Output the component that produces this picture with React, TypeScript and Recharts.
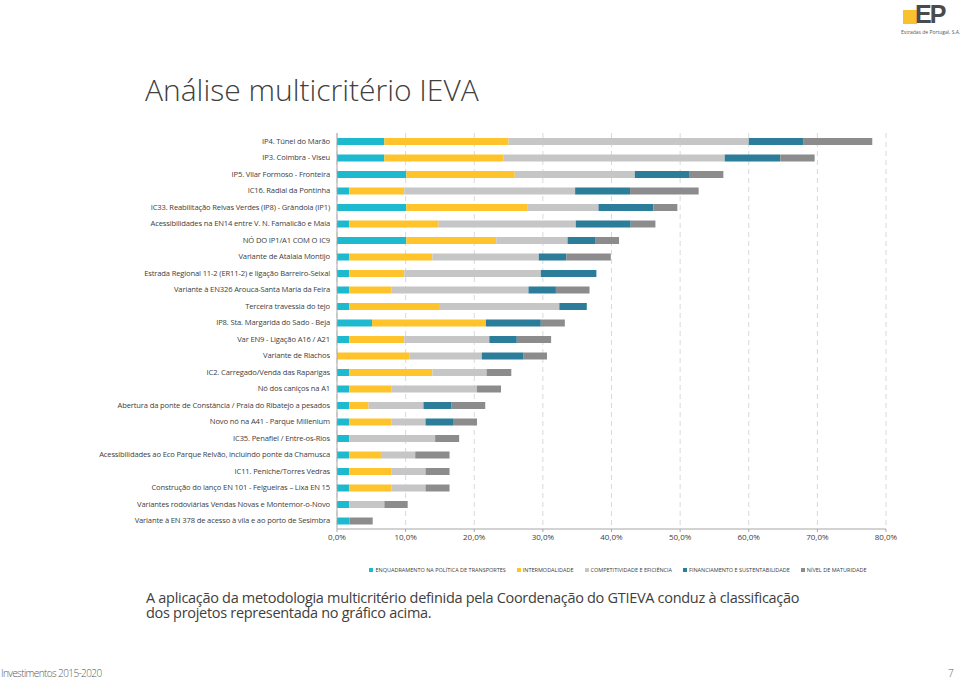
import React from "react";
import {
  BarChart,
  Bar,
  XAxis,
  YAxis,
  CartesianGrid,
  Legend,
} from "recharts";

const projects = [
  "IP4. Túnel do Marão",
  "IP3. Coimbra - Viseu",
  "IP5. Vilar Formoso - Fronteira",
  "IC16. Radial da Pontinha",
  "IC33. Reabilitação Relvas Verdes (IP8) - Grândola (IP1)",
  "Acessibilidades na EN14 entre V. N. Famalicão e Maia",
  "NÓ DO IP1/A1 COM O IC9",
  "Variante de Atalaia Montijo",
  "Estrada Regional 11-2 (ER11-2) e ligação Barreiro-Seixal",
  "Variante à EN326 Arouca-Santa Maria da Feira",
  "Terceira travessia do tejo",
  "IP8. Sta. Margarida do Sado - Beja",
  "Var EN9 - Ligação A16 / A21",
  "Variante de Riachos",
  "IC2. Carregado/Venda das Raparigas",
  "Nó  dos caniços na A1",
  "Abertura da ponte de Constância / Praia do Ribatejo a pesados",
  "Novo nó na A41 - Parque Millenium",
  "IC35. Penafiel / Entre-os-Rios",
  "Acessibilidades ao Eco Parque Relvão, incluindo ponte da Chamusca",
  "IC11. Peniche/Torres Vedras",
  "Construção do lanço EN 101 - Felgueiras – Lixa EN 15",
  "Variantes rodoviárias Vendas Novas e Montemor-o-Novo",
  "Variante à EN 378 de acesso à vila e ao porto de Sesimbra",
];

// percentages per criterion
const enquadramento = [6.9, 6.9, 10.1, 1.8, 10.1, 1.8, 10.1, 1.8, 1.8, 1.8, 1.8, 5.1, 1.8, 0, 1.8, 1.8, 1.8, 1.8, 1.8, 1.8, 1.8, 1.8, 1.8, 1.8];
const intermodalidade = [18.1, 17.4, 15.8, 8.0, 17.7, 13.0, 13.1, 12.1, 8.0, 6.1, 13.2, 16.6, 8.0, 10.6, 12.1, 6.1, 2.8, 6.1, 0, 4.6, 6.1, 6.1, 0, 0];
const competitividade = [35.0, 32.2, 17.5, 24.9, 10.3, 20.0, 10.4, 15.5, 19.9, 20.0, 17.4, 0, 12.4, 10.5, 7.9, 12.5, 8.0, 5.0, 12.5, 5.0, 5.0, 5.0, 5.1, 0];
const financiamento = [8.0, 8.1, 7.9, 8.0, 8.0, 8.0, 4.1, 4.0, 8.1, 4.0, 4.0, 8.0, 4.0, 6.1, 0, 0, 4.1, 4.0, 0, 0, 0, 0, 0, 0];
const maturidade = [10.0, 5.0, 5.0, 10.0, 3.5, 3.6, 3.4, 6.5, 0, 4.9, 0, 3.5, 5.0, 3.4, 3.6, 3.5, 4.9, 3.5, 3.5, 5.0, 3.5, 3.5, 3.4, 3.4];

const xTicks = [0, 10, 20, 30, 40, 50, 60, 70, 80];

const series = [
  { key: "enq", name: "ENQUADRAMENTO NA POLÍTICA DE TRANSPORTES", color: "#1DB9CF" },
  { key: "int", name: "INTERMODALIDADE", color: "#FFC42B" },
  { key: "comp", name: "COMPETITIVIDADE E EFICIÊNCIA", color: "#C6C6C6" },
  { key: "fin", name: "FINANCIAMENTO E SUSTENTABILIDADE", color: "#2B7D9A" },
  { key: "mat", name: "NÍVEL DE MATURIDADE", color: "#8C8C8C" },
];

const data = projects.map((name, i) => ({
  name,
  enq: enquadramento[i],
  int: intermodalidade[i],
  comp: competitividade[i],
  fin: financiamento[i],
  mat: maturidade[i],
}));

const font = "'Open Sans', 'Noto Sans', sans-serif";

const CategoryTick = (props: any) => {
  const { x, y, payload } = props;
  return (
    <text
      x={x}
      y={y}
      dy={2.6}
      textAnchor="end"
      fontSize={7.6}
      fill="#404040"
      fontFamily={font}
      letterSpacing={-0.15}
    >
      {payload.value}
    </text>
  );
};

const LegendContent = () => (
  <div
    style={{
      display: "flex",
      justifyContent: "center",
      alignItems: "center",
      gap: 11,
      height: 16,
      paddingLeft: 350,
      fontFamily: font,
      fontSize: 5.5,
      color: "#404040",
      whiteSpace: "nowrap",
    }}
  >
    {series.map((s) => (
      <div key={s.key} style={{ display: "flex", alignItems: "center" }}>
        <span style={{ display: "inline-block", width: 4, height: 4, background: s.color, marginRight: 2 }} />
        {s.name}
      </div>
    ))}
  </div>
);

const paraStyle: React.CSSProperties = {
  position: "absolute",
  left: 146,
  fontSize: 14.5,
  lineHeight: "15px",
  color: "#404040",
  letterSpacing: -0.3,
  whiteSpace: "nowrap",
};

export default function App() {
  return (
    <div
      style={{
        position: "absolute",
        left: 0,
        top: 0,
        width: 960,
        height: 679,
        background: "#fff",
        fontFamily: font,
        overflow: "hidden",
      }}
    >
      {/* logo */}
      <div style={{ position: "absolute", left: 897, top: 2, width: 60, height: 34 }}>
        <div style={{ position: "absolute", left: 6, top: 8, width: 14, height: 14, background: "#F9C12E" }} />
        <div
          style={{
            position: "absolute",
            left: 18,
            top: -2,
            fontSize: 25,
            fontWeight: 700,
            color: "#4a4a4a",
            letterSpacing: -2,
            fontFamily: "'Liberation Sans', sans-serif",
          }}
        >
          EP
        </div>
        <div style={{ position: "absolute", left: 4, top: 27, fontSize: 5, color: "#555", whiteSpace: "nowrap" }}>
          Estradas de Portugal, S.A.
        </div>
      </div>

      <div
        style={{
          position: "absolute",
          left: 145,
          top: 69,
          fontSize: 30,
          fontWeight: 300,
          color: "#404040",
          whiteSpace: "nowrap",
        }}
      >
        Análise multicritério IEVA
      </div>

      <div style={{ position: "absolute", left: 0, top: 0 }}>
        <BarChart
          width={960}
          height={582}
          data={data}
          layout="vertical"
          margin={{ top: 133, right: 74, bottom: 4, left: 0 }}
          barSize={7}
        >
          <CartesianGrid horizontal={false} stroke="#D9D9D9" strokeDasharray="5 4" />
          <XAxis
            type="number"
            domain={[0, 80]}
            ticks={xTicks}
            interval={0}
            height={33}
            tickFormatter={(v) => `${v.toFixed(1).replace(".", ",")}%`}
            tick={{ fontSize: 8, fill: "#404040", fontFamily: font }}
            axisLine={{ stroke: "#A6A6A6" }}
            tickLine={{ stroke: "#A6A6A6" }}
            tickSize={3}
          />
          <YAxis
            type="category"
            dataKey="name"
            width={337}
            interval={0}
            tick={<CategoryTick />}
            axisLine={{ stroke: "#A6A6A6" }}
            tickLine={false}
            tickSize={0}
            tickMargin={7}
          />
          <Legend verticalAlign="bottom" align="center" height={16} content={<LegendContent />} />
          {series.map((s) => (
            <Bar
              key={s.key}
              dataKey={s.key}
              name={s.name}
              stackId="a"
              fill={s.color}
              isAnimationActive={false}
            />
          ))}
        </BarChart>
      </div>

      <div style={{ ...paraStyle, top: 590 }}>
        A aplicação da metodologia multicritério definida pela Coordenação do GTIEVA conduz à classificação
      </div>
      <div style={{ ...paraStyle, top: 605 }}>dos projetos representada no gráfico acima.</div>

      <div
        style={{
          position: "absolute",
          left: 1,
          top: 668,
          fontSize: 10,
          lineHeight: "10px",
          fontWeight: 300,
          color: "#595959",
          letterSpacing: -0.6,
          whiteSpace: "nowrap",
        }}
      >
        Investimentos 2015-2020
      </div>
      <div
        style={{
          position: "absolute",
          left: 948,
          top: 668,
          fontSize: 10,
          lineHeight: "10px",
          fontWeight: 300,
          color: "#595959",
        }}
      >
        7
      </div>
    </div>
  );
}
